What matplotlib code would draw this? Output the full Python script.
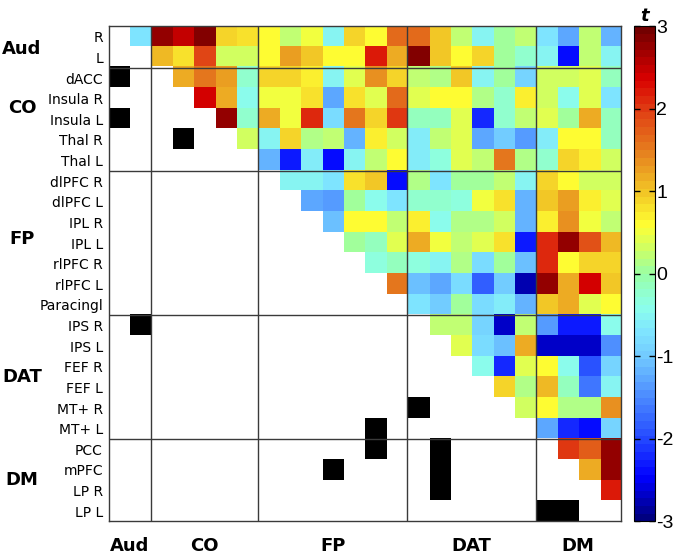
import numpy as np
import matplotlib
matplotlib.use('Agg')
import matplotlib.pyplot as plt
from matplotlib.colors import LinearSegmentedColormap, ListedColormap, Normalize
from matplotlib.cm import ScalarMappable

plt.rcParams['axes.unicode_minus'] = False

# region labels (rows / columns of the matrix)
regions = ['R', 'L',
           'dACC', 'Insula R', 'Insula L', 'Thal R', 'Thal L',
           'dlPFC R', 'dlPFC L', 'IPL R', 'IPL L', 'rlPFC R', 'rlPFC L', 'Paracingl',
           'IPS R', 'IPS L', 'FEF R', 'FEF L', 'MT+ R', 'MT+ L',
           'PCC', 'mPFC', 'LP R', 'LP L']
groups = ['Aud', 'CO', 'FP', 'DAT', 'DM']
group_sizes = [2, 5, 7, 6, 4]

# upper triangle t values, each row starts right after the diagonal
aud_rows = [
    [-0.7, 2.8, 2.5, 2.9, 0.9, 0.8, 0.6, 0.2, 0.5, -0.5, 0.9, 0.6, 1.6, 1.6, 1.0, 0.2, -0.5, 0.0, 0.2, -0.7, -1.3, 0.2, -1.2],
    [1.1, 0.8, 1.9, 0.3, 0.3, 0.6, 1.3, 1.0, 0.6, 0.6, 2.2, 1.2, 2.9, 1.0, 0.6, 0.9, 0.0, -0.2, -0.5, -2.4, 0.2, -0.5],
]
co_rows = [
    [1.2, 1.5, 1.3, -0.2, 0.9, 0.9, 0.7, -0.5, 0.4, 1.4, 0.9, 0.2, 0.1, 1.0, -0.5, 0.0, -0.9, 0.3, 0.3, 0.4, -0.1],
    [2.4, 1.2, -0.4, 0.5, 0.5, 0.8, -1.3, 0.8, 0.4, 1.6, 0.4, 0.6, 0.6, 0.1, -0.2, 0.7, 0.3, -0.4, 0.4, -0.7],
    [2.8, -0.2, 1.2, 0.5, 2.1, -0.8, 1.5, 0.9, 2.0, -0.1, -0.1, 0.4, -2.2, -0.2, 0.2, 0.4, 0.0, 1.2, -0.1],
    [0.3, -0.5, 0.9, 0.1, 0.2, -1.2, 0.7, 0.3, -0.6, 0.2, 0.4, -1.3, -1.0, -1.4, -0.6, 0.6, 0.6, -0.1],
    [-1.2, -2.3, -0.6, -2.4, -0.5, 0.2, 0.6, -0.6, -0.3, 0.4, 0.2, 1.5, 0.1, -0.2, 0.9, 0.7, 0.3],
]
fp_rows = [
    [-0.5, -0.5, -0.7, 0.8, 1.0, -2.4, 0.1, -0.7, 0.0, 0.0, 0.2, -0.5, 0.9, 0.6, 0.3, 0.3],
    [-1.3, -1.4, 0.0, -0.4, -0.7, -0.2, -0.2, -0.3, 0.5, 0.8, -1.2, 1.0, 1.3, 0.7, 0.4],
    [-1.1, 0.6, 0.6, 0.2, 0.7, -0.4, 0.1, 0.1, 0.3, -1.2, 0.7, 1.4, 0.5, 0.2],
    [0.0, -0.1, 0.4, 1.2, 0.5, 0.2, 0.4, 0.8, -2.3, 2.1, 2.8, 1.8, 1.1],
    [-0.3, -0.1, -0.3, -0.5, 0.1, -0.8, 0.0, -1.1, 2.1, 0.6, 0.9, 0.9],
    [1.5, -1.1, -1.3, -0.8, -1.8, -1.0, -2.8, 2.8, 1.2, 2.4, 1.0],
    [-0.7, -1.0, 0.0, -0.8, -0.6, -1.2, 1.0, 1.2, 0.4, 0.6],
]
dat_rows = [
    [0.2, 0.2, -0.9, -2.7, 0.2, -1.4, -2.3, -2.3, -0.4],
    [0.4, -0.8, -1.1, 1.2, -2.7, -2.7, -2.7, -1.5],
    [-0.4, -2.2, 0.4, 0.6, -0.4, -1.9, -0.9],
    [0.9, 0.1, 1.1, -0.1, -1.6, -0.5],
    [0.3, 0.6, 0.1, 0.1, 1.4],
    [-1.3, -2.2, -2.4, -0.9],
]
dm_rows = [
    [2.0, 1.7, 2.8],
    [1.2, 2.8],
    [2.2],
    [],
]

# lower triangle cells drawn in black (row, col)
black_cells = [(2, 0), (4, 0), (5, 3), (14, 1), (18, 14), (19, 12), (20, 12),
               (21, 10), (20, 15), (21, 15), (22, 15), (23, 20), (23, 21)]

n = len(regions)
mat = np.full((n, n), np.nan)
for i, row in enumerate(aud_rows + co_rows + fp_rows + dat_rows + dm_rows):
    mat[i, i + 1:i + 1 + len(row)] = row

blk = np.full((n, n), np.nan)
for r, c in black_cells:
    blk[r, c] = 1

# pastel jet-like colormap
cmap = LinearSegmentedColormap.from_list('tmap', [
    (0.0, (0.0, 0.0, 0.5)),
    (0.083, (0.0, 0.0, 1.0)),
    (0.167, (0.15, 0.3, 1.0)),
    (0.25, (0.3, 0.55, 1.0)),
    (0.333, (0.45, 0.8, 1.0)),
    (0.383, (0.5, 0.9, 1.0)),
    (0.433, (0.55, 1.0, 0.92)),
    (0.5, (0.6, 1.0, 0.65)),
    (0.55, (0.8, 1.0, 0.4)),
    (0.6, (1.0, 1.0, 0.2)),
    (0.667, (0.95, 0.78, 0.15)),
    (0.75, (0.9, 0.5, 0.12)),
    (0.833, (0.88, 0.25, 0.08)),
    (0.9, (0.85, 0.0, 0.0)),
    (1.0, (0.45, 0.0, 0.0)),
], N=64)
cmap.set_bad('white')

fig = plt.figure(figsize=(6.77, 5.56), dpi=100)
ax = fig.add_axes([0.1603, 0.0621, 0.757, 0.8903])
ax.imshow(np.ma.masked_invalid(mat), cmap=cmap, vmin=-3, vmax=3,
          aspect='auto', interpolation='nearest')
ax.imshow(np.ma.masked_invalid(blk), cmap=ListedColormap(['black']),
          aspect='auto', interpolation='nearest')
ax.set_xlim(-0.5, n - 0.5)
ax.set_ylim(n - 0.5, -0.5)

line_col = '#3a3a3a'
bounds = np.cumsum(group_sizes)[:-1] - 0.5
for b in bounds:
    ax.axhline(b, color=line_col, lw=1.0)
    ax.axvline(b, color=line_col, lw=1.0)
for s in ax.spines.values():
    s.set_color(line_col)
    s.set_linewidth(1.0)

ax.set_yticks(range(n))
ax.set_yticklabels(regions, fontsize=10)
ax.set_xticks([])
ax.tick_params(axis='y', length=0, pad=4)

# group labels
starts = np.concatenate([[0], np.cumsum(group_sizes)[:-1]])
centers = starts + np.array(group_sizes) / 2 - 0.5
left_pos = [1.1, 3.95, 10.3, 17, 22]
for g, c, yp in zip(groups, centers, left_pos):
    ax.text(-0.169, yp - 0.5, g, transform=ax.get_yaxis_transform(),
            ha='center', va='center', fontsize=13, fontweight='bold')
    ax.text(c, -0.05, g, transform=ax.get_xaxis_transform(),
            ha='center', va='center', fontsize=13, fontweight='bold')

# colour bar
cax = fig.add_axes([0.9365, 0.0621, 0.031, 0.8903])
cb = fig.colorbar(ScalarMappable(Normalize(-3, 3), cmap), cax=cax, ticks=range(-3, 4))
cb.ax.set_yticklabels([str(t) for t in range(-3, 4)])
cb.outline.set_linewidth(0.8)
cax.tick_params(direction='in', length=4, width=1, left=True, right=True,
                labelsize=14, pad=1)
for lbl in cax.get_yticklabels():
    lbl.set_family('Liberation Sans')
cax.set_title('t', fontsize=13, fontweight='bold', style='italic', pad=4)

fig.savefig('out.png', dpi=100)
